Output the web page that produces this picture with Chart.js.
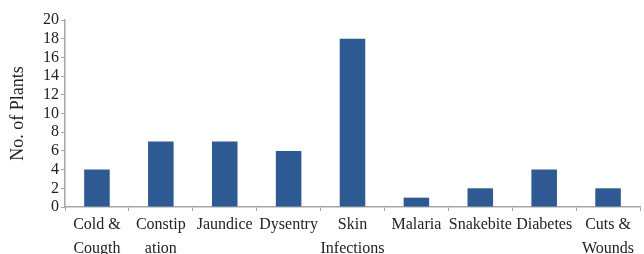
<!DOCTYPE html>
<html>
<head>
<meta charset="utf-8">
<script src="https://cdn.jsdelivr.net/npm/chart.js@4/dist/chart.umd.min.js"></script>
<style>
  html, body { margin: 0; padding: 0; background: #fff; }
  #wrap { width: 644px; height: 254px; }
</style>
</head>
<body>
<div id="wrap"><canvas id="plantsChart"></canvas></div>
<script>
// data
const diseases = [["Cold &", "Cougth"], ["Constip", "ation"], "Jaundice", "Dysentry", ["Skin", "Infections"], "Malaria", "Snakebite", "Diabetes", ["Cuts &", "Wounds"]];
const plantCounts = [4, 7, 7, 6, 18, 1, 2, 4, 2];
const yTicks = [0, 2, 4, 6, 8, 10, 12, 14, 16, 18, 20];

const serif = "'Liberation Serif', 'DejaVu Serif', serif";
const axisGrey = "#a6a6a6";

new Chart(document.getElementById("plantsChart"), {
    type: "bar",
    data: {
        labels: diseases,
        datasets: [{
            label: "No. of Plants",
            data: plantCounts,
            backgroundColor: "#2e5a94",
            borderWidth: 0,
            categoryPercentage: 0.8,
            barPercentage: 0.5
        }]
    },
    options: {
        responsive: true,
        maintainAspectRatio: false,
        animation: false,
        layout: { padding: { top: 20, right: 4, left: 0, bottom: 0 } },
        plugins: { legend: { display: false }, tooltip: { enabled: false } },
        scales: {
            x: {
                grid: { offset: true, drawOnChartArea: false, drawTicks: true, tickLength: 4, color: axisGrey },
                border: { color: axisGrey, width: 1.5 },
                ticks: {
                    color: "#222",
                    font: { family: serif, size: 16, lineHeight: 1.55 },
                    maxRotation: 0,
                    autoSkip: false,
                    padding: 1
                },
                afterFit: (axis) => { axis.height = 47; }
            },
            y: {
                min: 0,
                max: 20,
                afterBuildTicks: (axis) => { axis.ticks = yTicks.map(v => ({ value: v })); },
                grid: { drawOnChartArea: false, drawTicks: true, tickLength: 4, color: axisGrey },
                border: { color: axisGrey, width: 1.5 },
                ticks: {
                    color: "#222",
                    font: { family: serif, size: 16 },
                    autoSkip: false,
                    padding: 2
                },
                title: {
                    display: true,
                    text: "No. of Plants",
                    color: "#222",
                    font: { family: serif, size: 18 },
                    padding: { top: 7, bottom: 4 }
                },
                afterFit: (axis) => { axis.width = 65; }
            }
        }
    }
});
</script>
</body>
</html>
